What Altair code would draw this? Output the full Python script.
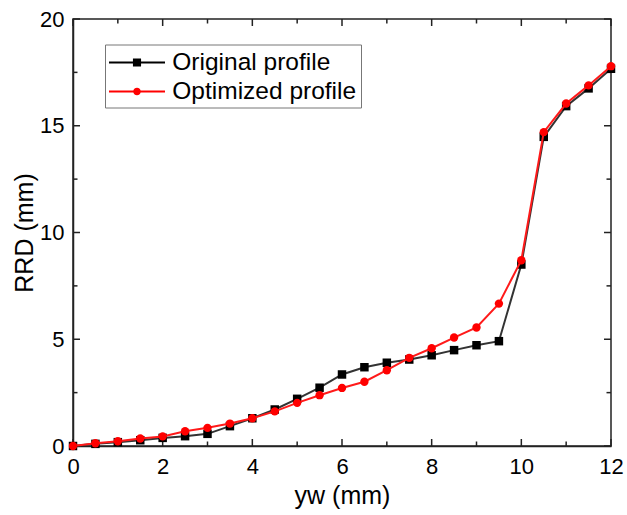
import altair as alt
import pandas as pd

# ---- data ----
yw = [0, 0.5, 1, 1.5, 2, 2.5, 3, 3.5, 4, 4.5, 5, 5.5, 6,
      6.5, 7, 7.5, 8, 8.5, 9, 9.5, 10, 10.5, 11, 11.5, 12]
original = [0.00, 0.10, 0.18, 0.27, 0.38, 0.46, 0.57, 0.93, 1.30, 1.71, 2.21, 2.73, 3.35,
            3.69, 3.90, 4.05, 4.25, 4.49, 4.72, 4.91, 8.50, 14.48, 15.92, 16.75, 17.67]
optimized = [0.00, 0.13, 0.22, 0.35, 0.45, 0.69, 0.85, 1.05, 1.30, 1.62, 2.02, 2.38, 2.72,
             3.01, 3.55, 4.13, 4.58, 5.08, 5.55, 6.67, 8.70, 14.70, 16.04, 16.89, 17.79]
series_names = ["Original profile", "Optimized profile"]
series_colors = ["#000000", "#ff0000"]
x_major = [0, 2, 4, 6, 8, 10, 12]
x_minor = [1, 3, 5, 7, 9, 11]
y_major = [0, 5, 10, 15, 20]
y_minor = [2.5, 7.5, 12.5, 17.5]

df = pd.DataFrame({
    "yw": yw + yw,
    "rrd": original + optimized,
    "series": [series_names[0]] * len(yw) + [series_names[1]] * len(yw),
})

W, H = 538, 427
FONT = "Liberation Sans"
AX = "#222222"
MAJ, MIN = 7, 4.5

xs = alt.Scale(domain=[0, 12], nice=False, zero=False)
ys = alt.Scale(domain=[0, 20], nice=False, zero=False)

x_label_axis = alt.Axis(orient="bottom", values=x_major, ticks=False, grid=False,
                        domainColor=AX, domainWidth=1.5,
                        labelFont=FONT, labelFontSize=22, labelColor="black",
                        labelPadding=10, labelFlush=False, labelOverlap=False, format="d",
                        title="yw (mm)", titleFont=FONT, titleFontSize=25,
                        titleFontWeight="normal", titleColor="black", titlePadding=6)
y_label_axis = alt.Axis(orient="left", values=y_major, ticks=False, grid=False,
                        domainColor=AX, domainWidth=1.5,
                        labelFont=FONT, labelFontSize=22, labelColor="black",
                        labelPadding=9, labelFlush=False, labelOverlap=False, format="d",
                        title="RRD (mm)", titleFont=FONT, titleFontSize=25,
                        titleFontWeight="normal", titleColor="black", titlePadding=2)

base = alt.Chart(df)
orig = base.transform_filter(alt.datum.series == series_names[0])
opt = base.transform_filter(alt.datum.series == series_names[1])
none = base.transform_filter("false")

orig_line = orig.mark_line(color="#333333", strokeWidth=2).encode(
    x=alt.X("yw:Q", scale=xs, axis=x_label_axis),
    y=alt.Y("rrd:Q", scale=ys, axis=y_label_axis),
)
orig_pts = orig.mark_point(shape="square", filled=True, size=72, color="black", opacity=1).encode(
    x="yw:Q", y="rrd:Q")
opt_line = opt.mark_line(color="#ff1a1a", strokeWidth=2).encode(x="yw:Q", y="rrd:Q")
opt_pts = opt.mark_point(shape="circle", filled=True, size=70, color="#ff0000", opacity=1).encode(
    x="yw:Q", y="rrd:Q")


# inward ticks on all four sides: positions come from the tick value lists via the scales
def x_ticks(values, length):
    c = alt.Chart(pd.DataFrame({"v": values})).mark_rule(color=AX, strokeWidth=1.5)
    bottom = c.encode(x="v:Q", y=alt.value(H), y2=alt.value(H - length))
    top = c.encode(x="v:Q", y=alt.value(0), y2=alt.value(length))
    return [bottom, top]


def y_ticks(values, length):
    c = alt.Chart(pd.DataFrame({"v": values})).mark_rule(color=AX, strokeWidth=1.5)
    left = c.encode(y="v:Q", x=alt.value(0), x2=alt.value(length))
    right = c.encode(y="v:Q", x=alt.value(W), x2=alt.value(W - length))
    return [left, right]


tick_layers = x_ticks(x_major, MAJ) + x_ticks(x_minor, MIN) + y_ticks(y_major, MAJ) + y_ticks(y_minor, MIN)

sq_path = "M-2,-0.08H2V0.08H-2Z M-0.29,-0.29H0.29V0.29H-0.29Z"
ci_path = "M-2,-0.08H2V0.08H-2Z M-0.27,0A0.27,0.27 0 1,1 0.27,0A0.27,0.27 0 1,1 -0.27,0Z"

leg = alt.Legend(orient="none", legendX=32, legendY=25.5, title=None, padding=4,
                 fillColor="white", strokeColor="#777777",
                 labelFont=FONT, labelFontSize=24.5, labelColor="black", labelLimit=400,
                 labelOffset=21.3, symbolSize=784, symbolStrokeWidth=0, symbolOffset=14,
                 rowPadding=3, symbolOpacity=1)

legend_layer = none.mark_point(filled=True, opacity=1).encode(
    color=alt.Color("series:N", scale=alt.Scale(domain=series_names, range=series_colors), legend=leg),
    shape=alt.Shape("series:N", scale=alt.Scale(domain=series_names, range=[sq_path, ci_path]), legend=leg),
)

chart = alt.layer(orig_line, *tick_layers, orig_pts, opt_line, opt_pts, legend_layer).properties(
    width=W, height=H,
    padding={"left": 73, "top": 19, "right": 16, "bottom": 69},
    autosize=alt.AutoSizeParams(type="none"),
    background="white",
).configure_view(stroke=AX, strokeWidth=1.5)

chart.save("out.html", embed_options={"renderer": "svg", "actions": False})
